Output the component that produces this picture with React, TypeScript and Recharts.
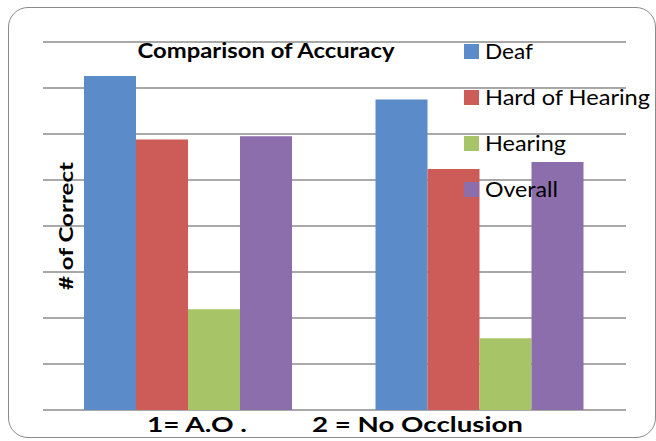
import React from 'react';
import { BarChart, Bar, XAxis, YAxis, CartesianGrid } from 'recharts';

const categories = ['1', '2'];
const deaf = [7.26, 6.75];
const hardOfHearing = [5.88, 5.24];
const hearing = [2.19, 1.56];
const overall = [5.95, 5.39];
const yTicks = [0, 1, 2, 3, 4, 5, 6, 7, 8];

const SERIES = [
    { key: 'deaf', name: 'Deaf', color: '#5B8BC9', textWidth: 48 },
    { key: 'hoh', name: 'Hard of Hearing', color: '#CD5B57', textWidth: 165 },
    { key: 'hearing', name: 'Hearing', color: '#A7C466', textWidth: 81 },
    { key: 'overall', name: 'Overall', color: '#8C6EAC', textWidth: 73 }
];

const data = categories.map((c, i) => ({
    name: c,
    deaf: deaf[i],
    hoh: hardOfHearing[i],
    hearing: hearing[i],
    overall: overall[i]
}));

const FONT = 'Lato, "Open Sans", sans-serif';

export default function App() {
    return (
        <div style={{ position: 'absolute', left: 0, top: 0, width: 656, height: 441, background: '#fff' }}>
            {/* rounded chart border */}
            <div
                style={{
                    position: 'absolute',
                    left: 8,
                    top: 7,
                    width: 646,
                    height: 429,
                    border: '1.5px solid #8a8a8a',
                    borderRadius: 20
                }}
            />
            <BarChart
                width={656}
                height={441}
                data={data}
                margin={{ top: 42, right: 30, bottom: 31, left: 43 }}
                barCategoryGap={41}
                barGap={0}
                style={{ position: 'absolute', left: 0, top: 0 }}
            >
                <CartesianGrid vertical={false} stroke="#8c8c8c" strokeWidth={1.5} />
                <XAxis dataKey="name" hide />
                <YAxis domain={[0, 8]} ticks={yTicks} hide />
                {SERIES.map((s) => (
                    <Bar key={s.key} dataKey={s.key} name={s.name} fill={s.color} isAnimationActive={false} />
                ))}
            </BarChart>
            <svg
                width={656}
                height={441}
                style={{ position: 'absolute', left: 0, top: 0, pointerEvents: 'none' }}
            >
                {/* legend, drawn over the bars like the original */}
                <g fontFamily={FONT} fontSize={21} fill="#000">
                    {SERIES.map((s, i) => (
                        <g key={s.key}>
                            <rect x={464} y={44 + i * 46} width={15} height={15} fill={s.color} />
                            <text x={485} y={59 + i * 46} textLength={s.textWidth} lengthAdjust="spacingAndGlyphs">
                                {s.name}
                            </text>
                        </g>
                    ))}
                </g>
                <g fontFamily={FONT} fontWeight="bold" fill="#000">
                    <text x={266} y={58} fontSize={21} textAnchor="middle" textLength={257} lengthAdjust="spacingAndGlyphs">
                        Comparison of Accuracy
                    </text>
                    <text
                        transform="translate(73, 226) rotate(-90)"
                        fontSize={19}
                        textAnchor="middle"
                        textLength={128}
                        lengthAdjust="spacingAndGlyphs"
                    >
                        # of Correct
                    </text>
                    <text x={147} y={432} fontSize={21} textLength={100} lengthAdjust="spacingAndGlyphs">
                        1= A.O .
                    </text>
                    <text x={312} y={432} fontSize={21} textLength={211} lengthAdjust="spacingAndGlyphs">
                        2 = No Occlusion
                    </text>
                </g>
            </svg>
        </div>
    );
}
